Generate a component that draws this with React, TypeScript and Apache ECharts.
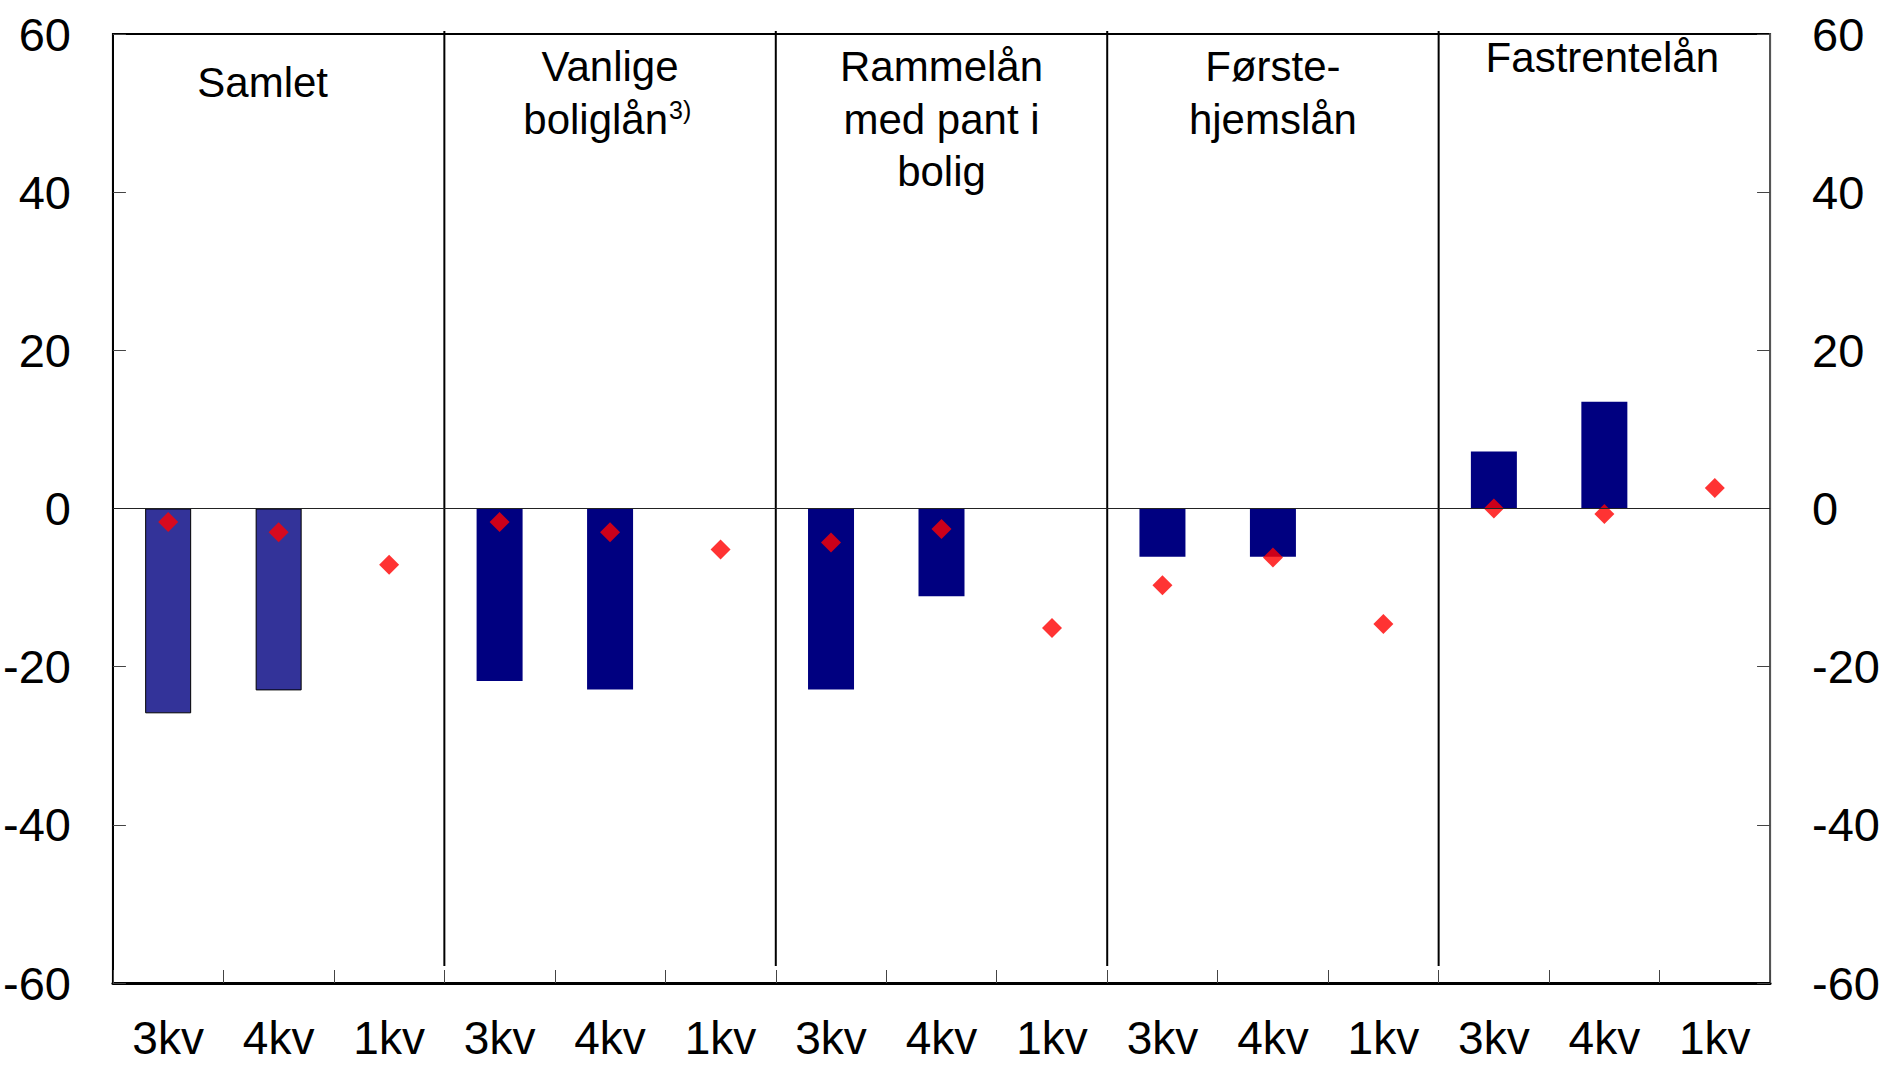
import React, { useEffect, useRef } from "react";
import * as echarts from "echarts";

const groups = ["Samlet", "Vanlige boliglån", "Rammelån med pant i bolig", "Førstehjemslån", "Fastrentelån"];
const quarters = ["3kv", "4kv", "1kv"];
const categories = groups.flatMap(() => quarters);
const barValues = [-25.9, -23.0, null, -21.8, -22.9, null, -22.9, -11.1, null, -6.1, -6.1, null, 7.2, 13.5, null];
const diamondValues = [-1.7, -3.0, -7.1, -1.7, -3.0, -5.2, -4.3, -2.6, -15.1, -9.7, -6.2, -14.6, 0, -0.7, 2.6];
const titleLines = [["Samlet"], ["Vanlige", "boliglån"], ["Rammelån", "med pant i", "bolig"], ["Første-", "hjemslån"], ["Fastrentelån"]];
const titleY = [[82], [66, 119], [66, 119, 171], [66, 119], [57]];
const titleDx = [-16, 0, 0, 0, -2];
const FONT = "'Liberation Sans', Arial, sans-serif";

export default function App() {
  const ref = useRef<HTMLDivElement>(null);
  useEffect(() => {
    document.body.style.margin = "0";
    const chart = echarts.init(ref.current!, null, { renderer: "svg" });
    const yAxisBase = (pos: "left" | "right", lineColor: string) => ({
      type: "value",
      position: pos,
      min: -60,
      max: 60,
      interval: 20,
      axisLine: { show: true, lineStyle: { color: lineColor, width: 2 } },
      axisTick: { show: true, inside: true, length: 13, lineStyle: { color: "#444", width: 1 } },
      axisLabel: { fontSize: 47, color: "#000", fontFamily: FONT, margin: 42 },
      splitLine: { show: false },
    });
    chart.setOption({
      animation: false,
      backgroundColor: "#fff",
      grid: { left: 107, right: 107, top: 34, bottom: 84, show: true, borderColor: "#000", borderWidth: 2 },
      xAxis: [
        {
          type: "category",
          data: categories,
          axisLine: { onZero: false, lineStyle: { color: "#000", width: 3 } },
          axisTick: { show: true, inside: true, length: 13, interval: 0, lineStyle: { color: "#444", width: 1 } },
          axisLabel: { interval: 0, fontSize: 46, color: "#000", fontFamily: FONT, margin: 32 },
        },
      ],
      yAxis: [yAxisBase("left", "#000"), yAxisBase("right", "#555")],
      series: [
        {
          type: "bar",
          yAxisIndex: 0,
          barWidth: 46,
          itemStyle: { color: "#000080" },
          data: barValues.map((v, i) =>
            i < 3 && v !== null
              ? { value: v, itemStyle: { color: "#333399", borderColor: "#000", borderWidth: 1 } }
              : v
          ),
          markLine: {
            silent: true,
            symbol: "none",
            label: { show: false },
            lineStyle: { color: "#222", width: 1, type: "solid" },
            data: [{ yAxis: 0 }],
          },
          z: 2,
        },
        {
          type: "scatter",
          yAxisIndex: 0,
          symbol: "diamond",
          symbolSize: 20,
          itemStyle: { color: "#ff0000" },
          data: diamondValues,
          z: 3,
        },
      ],
    });

    const xAt = (i: number) => chart.convertToPixel({ xAxisIndex: 0 }, i as any) as number;
    const top = chart.convertToPixel({ yAxisIndex: 0 }, 60) as number;
    const bottom = chart.convertToPixel({ yAxisIndex: 0 }, -60) as number;
    const graphics: any[] = [];
    for (let g = 1; g < groups.length; g++) {
      const x = (xAt(3 * g - 1) + xAt(3 * g)) / 2;
      graphics.push({
        type: "line",
        shape: { x1: x, y1: top - 3, x2: x, y2: bottom - 17 },
        style: { stroke: "#000", lineWidth: 2 },
        silent: true,
      });
    }
    for (let g = 0; g < groups.length; g++) {
      const cx = xAt(3 * g + 1) + titleDx[g];
      titleLines[g].forEach((line, k) => {
        if (line === "boliglån") {
          graphics.push({
            type: "text",
            x: cx + 58,
            y: titleY[g][k],
            style: { text: line, fontSize: 42, fontFamily: FONT, fill: "#000", align: "right", verticalAlign: "middle" },
            silent: true,
          });
          graphics.push({
            type: "text",
            x: cx + 59,
            y: titleY[g][k] - 9,
            style: { text: "3)", fontSize: 25, fontFamily: FONT, fill: "#000", align: "left", verticalAlign: "middle" },
            silent: true,
          });
        } else {
          graphics.push({
            type: "text",
            x: cx,
            y: titleY[g][k],
            style: { text: line, fontSize: 42, fontFamily: FONT, fill: "#000", align: "center", verticalAlign: "middle" },
            silent: true,
          });
        }
      });
    }
    chart.setOption({ graphic: graphics });
    return () => chart.dispose();
  }, []);
  return <div ref={ref} style={{ width: 1883, height: 1067 }} />;
}
